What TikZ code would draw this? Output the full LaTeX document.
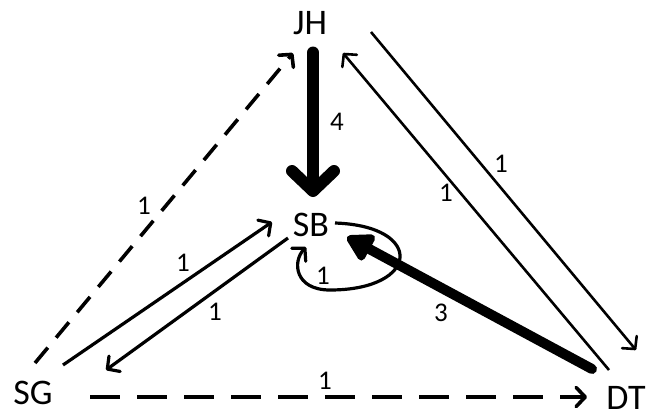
\documentclass[tikz,border=0pt]{standalone}
\usepackage{fontspec}
\setmainfont{Carlito}
\usetikzlibrary{arrows.meta}
\begin{document}
\begin{tikzpicture}[x=1pt,y=-1pt,
  vtx/.style={inner sep=0pt,font=\fontsize{36}{40}\selectfont},
  lbl/.style={inner sep=0pt,font=\fontsize{27}{30}\selectfont},
  thin/.style={line width=3.2pt,-{Straight Barb[length=9pt,width=19pt,line cap=round,line join=round]}},
  thinner/.style={thin,line width=2.6pt},
  dashedge/.style={thin,line width=3.6pt},
  heavy/.style={line width=12pt,line cap=round,-{Straight Barb[length=20pt,width=42pt,line cap=round,line join=round]}},
  heavytri/.style={line width=10pt,line cap=round,-{Triangle[length=30pt,width=32pt,round]}}]
\useasboundingbox (0,0) rectangle (651,416);
\node[vtx] (JH) at (310,23.5) {JH};
\node[vtx] (SB) at (311,225) {SB};
\node[vtx] (SG) at (33,393) {SG};
\node[vtx] (DT) at (626,398) {DT};
% JH -> SB (4)
\draw[heavy] ([shift={(3,29)}]JH.center) -- ([shift={(2,-28)}]SB.center);
\node[lbl] (l4) at (337,122) {4};
% SG -> JH dashed
\draw[dashedge,dash pattern=on 20pt off 13pt] ([shift={(2,-30)}]SG.center) -- ([shift={(-17,29.5)}]JH.center);
\node[lbl] (lsgjh) at (144,206) {1};
% SG -> SB
\draw[thin] ([shift={(30,-28)}]SG.center) -- ([shift={(-39,-3)}]SB.center);
\node[lbl] (lsgsb) at (183,263) {1};
% SB -> SG
\draw[thin] ([shift={(-23,13)}]SB.center) -- ([shift={(73,-23)}]SG.center);
\node[lbl] (lsbsg) at (215,312) {1};
% SG -> DT dashed
\draw[dashedge,dash pattern=on 30pt off 17pt] ([shift={(57,4)}]SG.center) -- ([shift={(-39,-1)}]DT.center);
\node[lbl] (lsgdt) at (325,381) {1};
% JH -> DT
\draw[thinner] ([shift={(61,8.5)}]JH.center) -- ([shift={(10,-48)}]DT.center);
\node[lbl] (ljhdt) at (501,164) {1};
% DT -> JH
\draw[thinner] ([shift={(-17,-28)}]DT.center) -- ([shift={(33,29.5)}]JH.center);
\node[lbl] (ldtjh) at (446,193) {1};
% DT -> SB (3)
\draw[heavytri] ([shift={(-34,-29)}]DT.center) -- ([shift={(36,12)}]SB.center);
\node[lbl] (l3) at (441,313) {3};
% SB self loop
\draw[thin] ([shift={(24,-2)}]SB.center) .. controls +(90,3) and +(90,0) .. ([shift={(19,65)}]SB.center)
  .. controls +(-35,0) and +(-14,15) .. ([shift={(-5,22)}]SB.center);
\node[lbl] (lsbsb) at (323,276) {1};
\end{tikzpicture}
\end{document}
